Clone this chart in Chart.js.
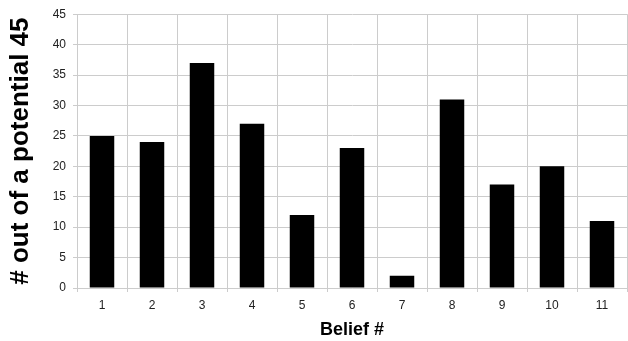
<!DOCTYPE html>
<html>
<head>
<meta charset="utf-8">
<script src="https://cdn.jsdelivr.net/npm/chart.js@4/dist/chart.umd.min.js"></script>
<style>
  html, body { margin: 0; padding: 0; background: #fff; }
  #wrap { width: 628px; height: 341px; }
</style>
</head>
<body>
<div id="wrap"><canvas id="chart" width="628" height="341"></canvas></div>
<script>
// Data
const beliefs = ["1", "2", "3", "4", "5", "6", "7", "8", "9", "10", "11"];
const counts = [25, 24, 37, 27, 12, 23, 2, 31, 17, 20, 11];
const yTicks = [0, 5, 10, 15, 20, 25, 30, 35, 40, 45];

const gridColor = "#cccccc";
const font = "'Liberation Sans', Arial, sans-serif";

new Chart(document.getElementById("chart"), {
  type: "bar",
  data: {
    labels: beliefs,
    datasets: [{ data: counts, backgroundColor: "#000000", barPercentage: 0.49, categoryPercentage: 1 }]
  },
  options: {
    responsive: false,
    animation: false,
    layout: { padding: { top: 8, right: 1, left: 0, bottom: 0 } },
    plugins: { legend: { display: false }, tooltip: { enabled: false } },
    scales: {
      x: {
        grid: { color: gridColor, tickLength: 4, offset: true },
        border: { color: gridColor },
        ticks: { color: "#222", font: { family: font, size: 12 }, padding: 6, maxRotation: 0 },
        title: { display: true, text: "Belief #", color: "#000", font: { family: font, size: 18, weight: "bold" }, padding: { top: 3, bottom: 0 } },
        afterFit: s => { s.height = 53; }
      },
      y: {
        min: 0, max: 45,
        afterBuildTicks: s => { s.ticks = yTicks.map(v => ({ value: v })); },
        grid: { color: gridColor, tickLength: 4 },
        border: { color: gridColor },
        ticks: { color: "#222", font: { family: font, size: 12 }, padding: 7 },
        title: { display: true, text: "# out of a potential 45", color: "#000", font: { family: font, size: 26, weight: "bold" }, padding: { top: 5, bottom: 0 } },
        afterFit: s => { s.width = 77; }
      }
    }
  }
});
</script>
</body>
</html>
